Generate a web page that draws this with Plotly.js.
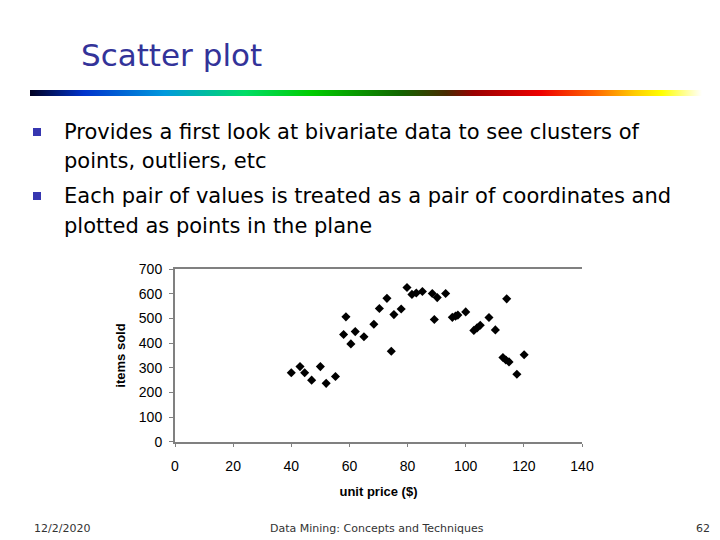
<!DOCTYPE html>
<html>
<head>
<meta charset="utf-8">
<script src="https://cdn.plot.ly/plotly-3.0.1.min.js"></script>
<style>
  html, body { margin: 0; padding: 0; background: #fff; }
  #wrap { position: relative; width: 720px; height: 540px; }
  #chart { position: absolute; left: 0; top: 0; width: 720px; height: 540px; }
  #rule { position: absolute; left: 30px; top: 90px; width: 672px; height: 6px;
    background: linear-gradient(to right, #000022 0%, #0033cc 8%, #0099dd 20%, #00dd66 32%, #00cc00 42%, #116600 55%, #4a2a00 62%, #990000 66%, #ee0000 76%, #ff6600 84%, #ffcc00 90%, #ffff00 94%, #ffffff 100%); }
</style>
</head>
<body>
<div id="wrap">
  <div id="chart"></div>
  <div id="rule"></div>
</div>
<script>
// ---- data ----
const unitPrice = [40, 43, 44.6, 47, 50, 52, 55.2, 58, 58.8, 60.5, 62, 65, 68.4, 70.3, 72.9, 74.4, 75.3, 77.8,
  79.8, 81.5, 83, 85.1, 88.5, 90.2, 93.1, 89.2, 95.4, 96.5, 97.3, 100, 102.8, 103.9, 105, 108, 110.2,
  114.1, 112.8, 113.8, 114.9, 117.6, 120.1];
const itemsSold = [280, 305, 280, 250, 305, 237, 265, 435, 507, 397, 447, 426, 477, 541, 582, 367, 516, 539,
  626, 598, 604, 610, 602, 585, 602, 496, 505, 510, 514, 527, 452, 462, 473, 504, 454,
  580, 342, 332, 324, 274, 353];
const xTickVals = [0, 20, 40, 60, 80, 100, 120, 140];
const yTickVals = [0, 100, 200, 300, 400, 500, 600, 700];

const slideTitle = "Scatter plot";
const bullets = [
  ["Provides a first look at bivariate data to see clusters of", "points, outliers, etc"],
  ["Each pair of values is treated as a pair of coordinates and", "plotted as points in the plane"]
];
const footerLeft = "12/2/2020";
const footerMid = "Data Mining: Concepts and Techniques";
const footerRight = "62";

// ---- helpers: pixel -> paper ----
const W = 720, H = 540;
const px = v => v / W;
const py = v => 1 - v / H;

const bodyFont = '"DejaVu Sans", Verdana, sans-serif';
const annotations = [];
annotations.push({ text: slideTitle, x: px(79), y: py(55), xref: 'paper', yref: 'paper',
  xanchor: 'left', yanchor: 'middle', showarrow: false,
  font: { family: bodyFont, size: 31, color: '#333399' } });

const lineY = [[132, 161], [196, 226]];
const shapes = [];
bullets.forEach((lines, i) => {
  lines.forEach((t, j) => {
    annotations.push({ text: t, x: px(62), y: py(lineY[i][j]), xref: 'paper', yref: 'paper',
      xanchor: 'left', yanchor: 'middle', showarrow: false,
      font: { family: bodyFont, size: 21, color: '#000000' } });
  });
  const cy = lineY[i][0];
  shapes.push({ type: 'rect', xref: 'paper', yref: 'paper',
    x0: px(33), x1: px(41), y0: py(cy - 4), y1: py(cy + 4),
    fillcolor: '#3636b0', line: { width: 0 } });
});

const footFont = { family: bodyFont, size: 11, color: '#333333' };
annotations.push({ text: footerLeft, x: px(32), y: py(528), xref: 'paper', yref: 'paper',
  xanchor: 'left', yanchor: 'middle', showarrow: false, font: footFont });
annotations.push({ text: footerMid, x: px(377), y: py(528), xref: 'paper', yref: 'paper',
  xanchor: 'center', yanchor: 'middle', showarrow: false, font: footFont });
annotations.push({ text: footerRight, x: px(712), y: py(528), xref: 'paper', yref: 'paper',
  xanchor: 'right', yanchor: 'middle', showarrow: false, font: footFont });

const axFont = { family: '"Liberation Sans", Arial, sans-serif', size: 14, color: '#000000' };
const axTitleFont = { family: '"Liberation Sans", Arial, sans-serif', size: 13, color: '#000000' };

const trace = {
  type: 'scatter', mode: 'markers', x: unitPrice, y: itemsSold,
  marker: { symbol: 'diamond', size: 7, color: '#000000' },
  hoverinfo: 'x+y', showlegend: false
};

const layout = {
  width: W, height: H,
  margin: { l: 0, r: 0, t: 0, b: 0, pad: 0 },
  paper_bgcolor: '#ffffff', plot_bgcolor: '#ffffff',
  showlegend: false,
  xaxis: {
    domain: [px(175), px(582)], range: [0, 140],
    tickvals: xTickVals, ticktext: xTickVals.map(String),
    showgrid: false, zeroline: false,
    showline: true, linecolor: '#808080', linewidth: 2, mirror: true,
    ticks: 'outside', ticklen: 3, tickcolor: '#808080', tickwidth: 1,
    ticklabelstandoff: 7,
    tickfont: axFont,
    title: { text: '<b>unit price ($)</b>', font: axTitleFont, standoff: 14 },
    automargin: false, fixedrange: true
  },
  yaxis: {
    domain: [py(441.7), py(269.3)], range: [0, 700],
    tickvals: yTickVals, ticktext: yTickVals.map(String),
    showgrid: false, zeroline: false,
    showline: true, linecolor: '#808080', linewidth: 2,
    ticks: 'outside', ticklen: 4, tickcolor: '#808080', tickwidth: 1,
    ticklabelstandoff: 4,
    tickfont: axFont,
    title: { text: '<b>items sold</b>', font: axTitleFont, standoff: 10 },
    automargin: false, fixedrange: true
  },
  annotations: annotations,
  shapes: shapes
};

Plotly.newPlot('chart', [trace], layout, { displayModeBar: false, staticPlot: true });
</script>
</body>
</html>
